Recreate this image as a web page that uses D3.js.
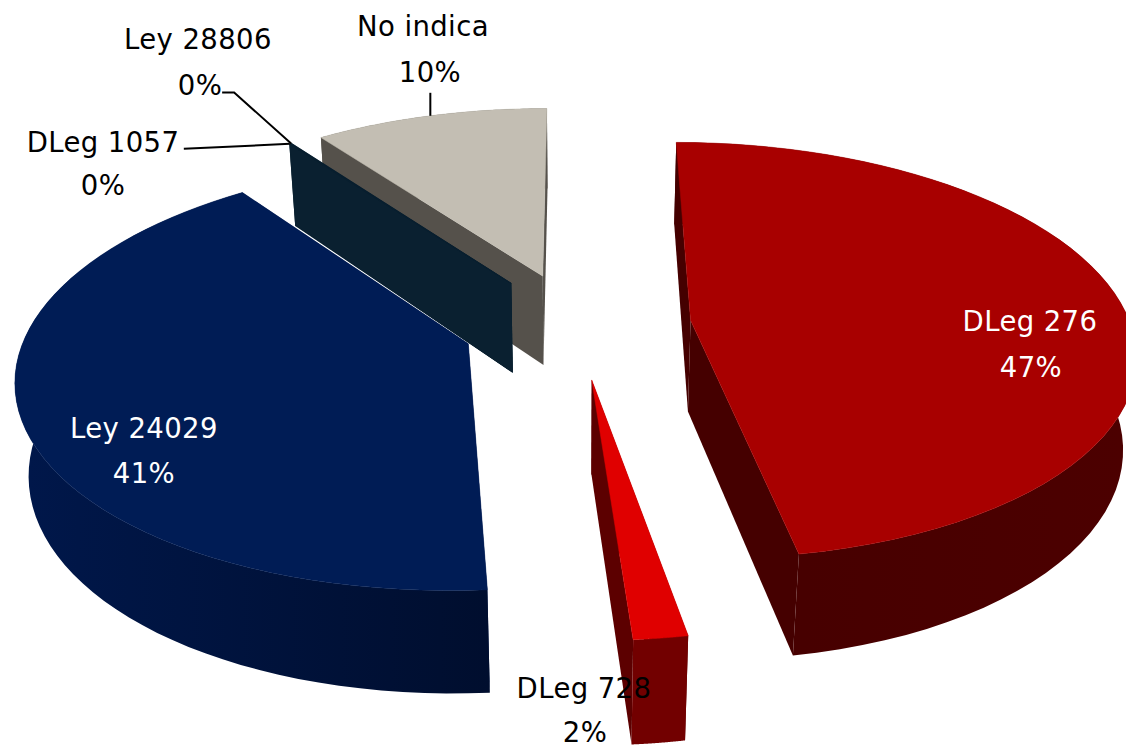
<!DOCTYPE html>
<html>
<head>
<meta charset="utf-8">
<script src="https://cdn.jsdelivr.net/npm/d3@7"></script>
<style>
  html, body { margin: 0; background: #fff; }
  svg { display: block; }
  text { font-family: "DejaVu Sans", sans-serif; font-size: 27.5px; text-anchor: middle; letter-spacing: 0.4px; }
</style>
</head>
<body>
<svg width="1126" height="747"></svg>
<script>
const categories = ["DLeg 276", "DLeg 728", "Ley 24029", "DLeg 1057", "Ley 28806", "No indica"];
const values = [47.2, 1.65, 41.0, 0.05, 0.05, 10.05];
const percentLabels = ["47%", "2%", "41%", "0%", "0%", "10%"];

const topColors = ["#a80000", "#e00000", "#001c55", "#0a2030", "#0a2030", "#c3beb3"];
const rimColorsA = ["#450000", "#720000", "#00174a", "#0a2030", "#0a2030", "#55514b"];
const rimColorsB = ["#4c0000", "#720000", "#000e2e", "#0a2030", "#0a2030", "#55514b"];
const sideColors = ["#450000", "#5c0000", "#00174a", "#0a2030", "#0a2030", "#55514b"];
const labelColors = ["#fff", "#000", "#fff", "#000", "#000", "#000"];

// where the two lines of each label sit: centre x, first baseline, second baseline
const labelPlace = [[1030, 331, 377], [584, 698, 742], [144, 438, 483], [103, 152, 195], [198, 49, 95], [423, 36, 82]];
const pctShift = [1, 1, 0, 0, 2, 7];

const svg = d3.select("svg");
const defs = svg.append("defs");

const cx = 577, cy = 325, rx = 440, ry = 205;
const explode = 0.26, persp = 0.145, sink = 0.024, depth = 93.5;

// disc coords (u right, v towards viewer), z 0 = top face, 1 = bottom face
function project(u, v, z) {
  const s = 1 / (1 - persp * v + sink * z);
  return [cx + rx * u * s, cy + (ry * v + depth * z * (1 + 0.02 * v)) * s];
}

const pie = d3.pie().sort(null);
const slices = pie(values).map(function(d, i) {
  d.i = i;
  d.mid = (d.startAngle + d.endAngle) / 2;
  d.ox = explode * Math.sin(d.mid);
  d.oy = -explode * Math.cos(d.mid);
  return d;
});

const line = d3.line();

function rimPoint(d, a, z) {
  return project(d.ox + Math.sin(a), d.oy - Math.cos(a), z);
}
function apex(d, z) {
  return project(d.ox, d.oy, z);
}
function arcPoints(d, z) {
  return d3.range(0, 61).map(function(k) {
    return rimPoint(d, d.startAngle + (d.endAngle - d.startAngle) * k / 60, z);
  });
}

// back slices first so nearer ones paint over them
const order = slices.slice().sort(function(a, b) { return a.oy - b.oy; });

const g = svg.append("g");
order.forEach(function(d) {
  const i = d.i;
  const top = arcPoints(d, 0);
  const bottom = arcPoints(d, 1);

  const grad = defs.append("linearGradient")
    .attr("id", "rim" + i)
    .attr("gradientUnits", "userSpaceOnUse")
    .attr("x1", d3.min(bottom, function(p) { return p[0]; }))
    .attr("x2", d3.max(bottom, function(p) { return p[0]; }))
    .attr("y1", 0).attr("y2", 0);
  grad.append("stop").attr("offset", 0).attr("stop-color", rimColorsA[i]);
  grad.append("stop").attr("offset", 1).attr("stop-color", rimColorsB[i]);

  // start and end walls
  [d.startAngle, d.endAngle].forEach(function(a) {
    g.append("path")
      .attr("d", line([apex(d, 0), rimPoint(d, a, 0), rimPoint(d, a, 1), apex(d, 1)]) + "Z")
      .attr("fill", sideColors[i]);
  });
  // outer wall
  g.append("path")
    .attr("d", line(top.concat(bottom.slice().reverse())) + "Z")
    .attr("fill", "url(#rim" + i + ")");
  // top face
  g.append("path")
    .attr("d", line([apex(d, 0)].concat(top)) + "Z")
    .attr("fill", topColors[i])
    .attr("stroke", topColors[i])
    .attr("stroke-width", 0.5);
});

// leader lines
const leaders = svg.append("g").attr("fill", "none").attr("stroke", "#000").attr("stroke-width", 2);
const noIndica = slices[5], ley = slices[4], dleg = slices[3];
const noIndicaRim = rimPoint(noIndica, noIndica.mid, 0);
leaders.append("path").attr("d", line([[noIndicaRim[0], noIndicaRim[1] - 23], noIndicaRim]));
const leyRim = rimPoint(ley, ley.mid, 0);
leaders.append("path").attr("d", line([[leyRim[0] - 69, leyRim[1] - 51], [leyRim[0] - 57, leyRim[1] - 51], leyRim]));
const dlegRim = rimPoint(dleg, dleg.mid, 0);
leaders.append("path").attr("d", line([[dlegRim[0] - 106, dlegRim[1] + 5], dlegRim]));

const labels = svg.append("g").selectAll("g").data(slices).join("g");
labels.append("text")
  .attr("x", function(d) { return labelPlace[d.i][0]; })
  .attr("y", function(d) { return labelPlace[d.i][1]; })
  .attr("fill", function(d) { return labelColors[d.i]; })
  .text(function(d) { return categories[d.i]; });
labels.append("text")
  .attr("x", function(d) { return labelPlace[d.i][0] + pctShift[d.i]; })
  .attr("y", function(d) { return labelPlace[d.i][2]; })
  .attr("fill", function(d) { return labelColors[d.i]; })
  .text(function(d) { return percentLabels[d.i]; });
</script>
</body>
</html>
